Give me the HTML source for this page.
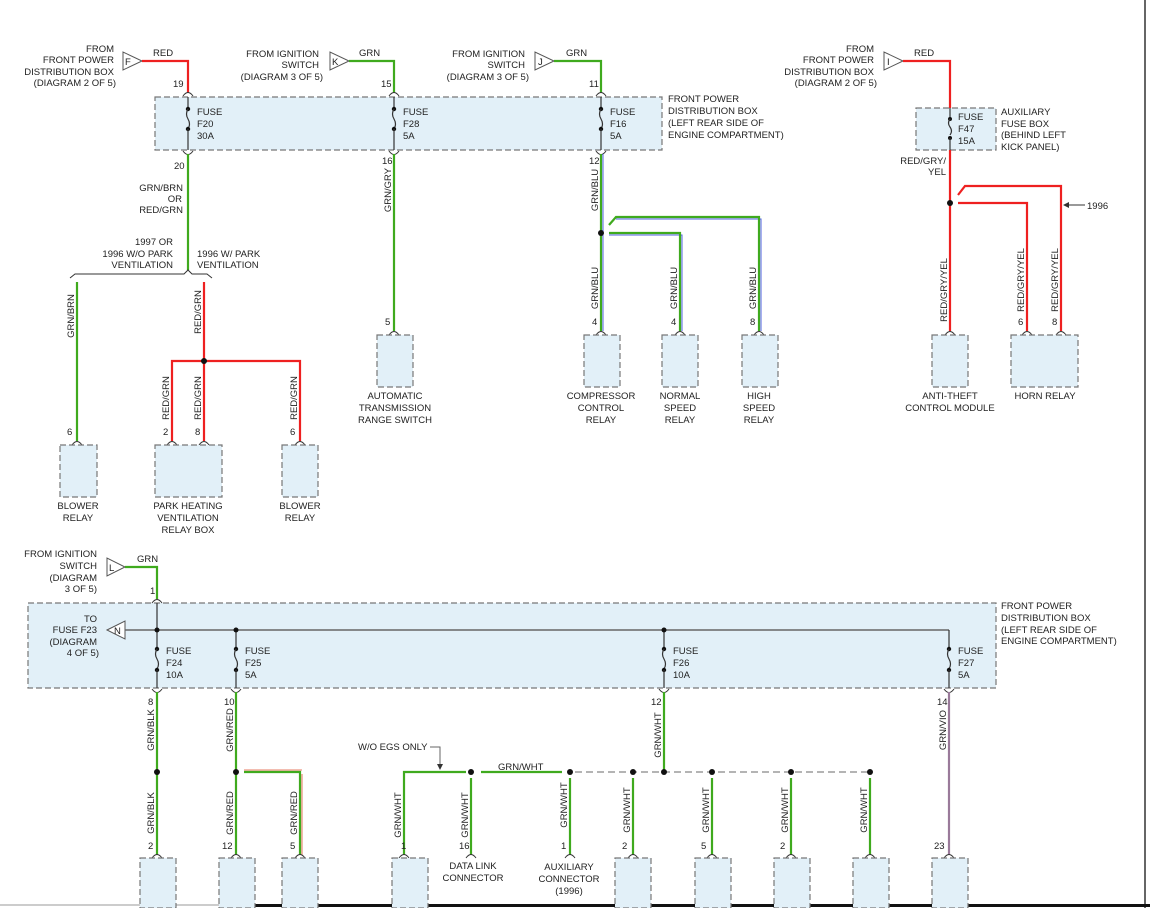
<!DOCTYPE html>
<html><head><meta charset="utf-8"><style>
html,body{margin:0;padding:0;background:#fff}
svg{display:block}
text{font-family:"Liberation Sans",sans-serif;font-size:9.5px;fill:#222}
.box{fill:#e2f0f8;stroke:#777;stroke-width:1.2;stroke-dasharray:6,3}
.r{stroke:#ee2020;stroke-width:2.2;fill:none}
.g{stroke:#3faa1e;stroke-width:2.2;fill:none}
.b{stroke:#5060e0;stroke-width:1;fill:none}
.gy{stroke:#666;stroke-width:1.5;fill:none}
.k{stroke:#333;stroke-width:1.2;fill:none}
.tri{fill:#fff;stroke:#555;stroke-width:1}
</style></head><body>
<svg width="1150" height="908" viewBox="0 0 1150 908" xmlns="http://www.w3.org/2000/svg">
<defs>
<g id="fuse"><line x1="0" y1="0" x2="0" y2="12" class="k"/><circle cx="0" cy="12" r="2.2" fill="#111"/><path d="M0,12 q-3,5 0,10 q3,5 0,10" class="k"/><circle cx="0" cy="32" r="2.2" fill="#111"/><line x1="0" y1="32" x2="0" y2="53" class="k"/></g>
<path id="cap" d="M-5,3 q5,-7 10,0" fill="none" stroke="#333" stroke-width="1"/>
<path id="capd" d="M-5,-3 q5,7 10,0" fill="none" stroke="#333" stroke-width="1"/>
</defs>

<line x1="1145" y1="0" x2="1145" y2="908" stroke="#333" stroke-width="1.5"/>
<line x1="0" y1="905" x2="245" y2="905" stroke="#ccc" stroke-width="2"/>
<line x1="245" y1="905.5" x2="1150" y2="905.5" stroke="#111" stroke-width="3"/>

<rect class="box" x="155" y="97" width="507" height="53"/>
<use href="#fuse" x="188" y="97"/><use href="#fuse" x="394" y="97"/><use href="#fuse" x="601" y="97"/>
<text x="197" y="115">FUSE</text><text x="197" y="127">F20</text><text x="197" y="139">30A</text>
<text x="403" y="115">FUSE</text><text x="403" y="127">F28</text><text x="403" y="139">5A</text>
<text x="610" y="115">FUSE</text><text x="610" y="127">F16</text><text x="610" y="139">5A</text>
<text x="668" y="102">FRONT POWER</text><text x="668" y="114">DISTRIBUTION BOX</text><text x="668" y="126">(LEFT REAR SIDE OF</text><text x="668" y="138">ENGINE COMPARTMENT)</text>

<polygon class="tri" points="123,52 123,70 142,61"/><text x="125" y="65">F</text>
<path class="r" d="M142,61 H188 V93"/><text x="153" y="56">RED</text>
<text x="114" y="52" text-anchor="end">FROM</text><text x="114" y="63" text-anchor="end">FRONT POWER</text><text x="114" y="75" text-anchor="end">DISTRIBUTION BOX</text><text x="116" y="86" text-anchor="end">(DIAGRAM 2 OF 5)</text>
<text x="173" y="87">19</text><use href="#cap" x="188" y="93"/>
<polygon class="tri" points="330,52 330,70 349,61"/><text x="332" y="65">K</text>
<path class="g" d="M349,61 H394 V93"/><text x="359" y="56">GRN</text>
<text x="319" y="57" text-anchor="end">FROM IGNITION</text><text x="319" y="68" text-anchor="end">SWITCH</text><text x="323" y="80" text-anchor="end">(DIAGRAM 3 OF 5)</text>
<text x="381" y="87">15</text><use href="#cap" x="394" y="93"/>
<polygon class="tri" points="535,52 535,70 554,61"/><text x="538" y="65">J</text>
<path class="g" d="M554,61 H601 V93"/><text x="566" y="56">GRN</text>
<text x="525" y="57" text-anchor="end">FROM IGNITION</text><text x="525" y="68" text-anchor="end">SWITCH</text><text x="529" y="80" text-anchor="end">(DIAGRAM 3 OF 5)</text>
<text x="589" y="87">11</text><use href="#cap" x="601" y="93"/>

<use href="#capd" x="188" y="154"/><text x="174" y="169">20</text>
<path class="g" d="M188,154 V270"/>
<text x="183" y="191" text-anchor="end">GRN/BRN</text><text x="182" y="202" text-anchor="end">OR</text><text x="183" y="213" text-anchor="end">RED/GRN</text>
<text x="173" y="245" text-anchor="end">1997 OR</text><text x="173" y="257" text-anchor="end">1996 W/O PARK</text><text x="173" y="268" text-anchor="end">VENTILATION</text>
<text x="197" y="257">1996 W/ PARK</text><text x="197" y="268">VENTILATION</text>
<path d="M70,278 l5,-4 H184 l4,-4 l4,4 H207 l5,4" fill="none" stroke="#333" stroke-width="1"/>
<path class="g" d="M77,282 V441"/><text transform="translate(74,316) rotate(-90)" text-anchor="middle">GRN/BRN</text>
<text x="67" y="435">6</text><use href="#cap" x="77" y="442"/>
<rect class="box" x="60" y="445" width="37" height="52"/>
<text x="78" y="509" text-anchor="middle">BLOWER</text><text x="78" y="521" text-anchor="middle">RELAY</text>
<path class="r" d="M204,282 V441 M172,441 V361 H300 V441"/><circle cx="204" cy="361" r="3" fill="#111"/>
<text transform="translate(201,312) rotate(-90)" text-anchor="middle">RED/GRN</text>
<text transform="translate(169,398) rotate(-90)" text-anchor="middle">RED/GRN</text>
<text transform="translate(201,398) rotate(-90)" text-anchor="middle">RED/GRN</text>
<text transform="translate(297,398) rotate(-90)" text-anchor="middle">RED/GRN</text>
<text x="163" y="435">2</text><text x="195" y="435">8</text><text x="290" y="435">6</text>
<use href="#cap" x="172" y="442"/><use href="#cap" x="204" y="442"/><use href="#cap" x="300" y="442"/>
<rect class="box" x="155" y="445" width="67" height="52"/><rect class="box" x="282" y="445" width="36" height="52"/>
<text x="188" y="509" text-anchor="middle">PARK HEATING</text><text x="188" y="521" text-anchor="middle">VENTILATION</text><text x="188" y="533" text-anchor="middle">RELAY BOX</text>
<text x="300" y="509" text-anchor="middle">BLOWER</text><text x="300" y="521" text-anchor="middle">RELAY</text>

<use href="#capd" x="394" y="154"/><text x="382" y="164">16</text>
<path class="g" d="M394,154 V331"/><text transform="translate(391,190) rotate(-90)" text-anchor="middle">GRN/GRY</text>
<text x="385" y="325">5</text><use href="#cap" x="394" y="332"/>
<rect class="box" x="377" y="335" width="36" height="52"/>
<text x="395" y="399" text-anchor="middle">AUTOMATIC</text><text x="395" y="411" text-anchor="middle">TRANSMISSION</text><text x="395" y="423" text-anchor="middle">RANGE SWITCH</text>

<use href="#capd" x="601" y="154"/><text x="589" y="164">12</text>
<path class="b" d="M603,154 V331 M609,235 H682 V331 M616,219 H761 V331"/>
<path class="g" d="M601,154 V331 M609,233 H680 V331 M609,225 L616,217 H759 V331"/>
<circle cx="601" cy="233" r="3" fill="#111"/>
<text transform="translate(598,190) rotate(-90)" text-anchor="middle">GRN/BLU</text>
<text transform="translate(598,288) rotate(-90)" text-anchor="middle">GRN/BLU</text>
<text transform="translate(677,288) rotate(-90)" text-anchor="middle">GRN/BLU</text>
<text transform="translate(756,288) rotate(-90)" text-anchor="middle">GRN/BLU</text>
<text x="592" y="325">4</text><text x="671" y="325">4</text><text x="750" y="325">8</text>
<use href="#cap" x="601" y="332"/><use href="#cap" x="680" y="332"/><use href="#cap" x="759" y="332"/>
<rect class="box" x="584" y="335" width="36" height="52"/><rect class="box" x="662" y="335" width="36" height="52"/><rect class="box" x="742" y="335" width="36" height="52"/>
<text x="601" y="399" text-anchor="middle">COMPRESSOR</text><text x="601" y="411" text-anchor="middle">CONTROL</text><text x="601" y="423" text-anchor="middle">RELAY</text>
<text x="680" y="399" text-anchor="middle">NORMAL</text><text x="680" y="411" text-anchor="middle">SPEED</text><text x="680" y="423" text-anchor="middle">RELAY</text>
<text x="759" y="399" text-anchor="middle">HIGH</text><text x="759" y="411" text-anchor="middle">SPEED</text><text x="759" y="423" text-anchor="middle">RELAY</text>

<polygon class="tri" points="884,52 884,70 903,61"/><text x="887" y="65">I</text>
<path class="r" d="M903,61 H950 V110"/><text x="914" y="56">RED</text>
<text x="874" y="52" text-anchor="end">FROM</text><text x="874" y="63" text-anchor="end">FRONT POWER</text><text x="874" y="75" text-anchor="end">DISTRIBUTION BOX</text><text x="877" y="86" text-anchor="end">(DIAGRAM 2 OF 5)</text>
<rect class="box" x="916" y="108" width="80" height="42"/>
<line x1="950" y1="108" x2="950" y2="118" class="k"/><circle cx="950" cy="119" r="2" fill="#111"/><path d="M950,119 q-3,4 0,8 q3,4 0,8" class="k"/><circle cx="950" cy="138" r="2" fill="#111"/><line x1="950" y1="138" x2="950" y2="150" class="k"/>
<text x="958" y="120">FUSE</text><text x="958" y="132">F47</text><text x="958" y="144">15A</text>
<text x="1001" y="115">AUXILIARY</text><text x="1001" y="127">FUSE BOX</text><text x="1001" y="138">(BEHIND LEFT</text><text x="1001" y="150">KICK PANEL)</text>
<text x="946" y="164" text-anchor="end">RED/GRY/</text><text x="946" y="175" text-anchor="end">YEL</text>
<path class="r" d="M950,150 V331 M958,203 H1027 V331 M958,195 L965,186 H1061 V331"/>
<circle cx="950" cy="203" r="3" fill="#111"/>
<path d="M1085,205 H1066" stroke="#333" stroke-width="1"/><polygon points="1063,205 1069,202 1069,208" fill="#333"/><text x="1087" y="209">1996</text>
<text transform="translate(947,290) rotate(-90)" text-anchor="middle">RED/GRY/YEL</text>
<text transform="translate(1024,280) rotate(-90)" text-anchor="middle">RED/GRY/YEL</text>
<text transform="translate(1058,280) rotate(-90)" text-anchor="middle">RED/GRY/YEL</text>
<text x="1018" y="325">6</text><text x="1052" y="325">8</text>
<use href="#cap" x="950" y="332"/><use href="#cap" x="1027" y="332"/><use href="#cap" x="1061" y="332"/>
<rect class="box" x="932" y="335" width="36" height="52"/><rect class="box" x="1011" y="335" width="67" height="52"/>
<text x="950" y="399" text-anchor="middle">ANTI-THEFT</text><text x="950" y="411" text-anchor="middle">CONTROL MODULE</text>
<text x="1045" y="399" text-anchor="middle">HORN RELAY</text>

<rect class="box" x="28" y="603" width="968" height="85"/>
<polygon class="tri" points="107,558 107,576 125,567"/><text x="109" y="571">L</text>
<path class="g" d="M125,567 H157 V599"/><text x="137" y="562">GRN</text>
<text x="97" y="557" text-anchor="end">FROM IGNITION</text><text x="97" y="569" text-anchor="end">SWITCH</text><text x="97" y="581" text-anchor="end">(DIAGRAM</text><text x="97" y="592" text-anchor="end">3 OF 5)</text>
<text x="150" y="594">1</text><use href="#cap" x="157" y="600"/>
<polygon class="tri" points="107,630 125,621 125,639"/><text x="114" y="634">N</text>
<line x1="125" y1="630" x2="949" y2="630" class="gy"/>
<text x="97" y="622" text-anchor="end">TO</text><text x="97" y="633" text-anchor="end">FUSE F23</text><text x="97" y="645" text-anchor="end">(DIAGRAM</text><text x="99" y="656" text-anchor="end">4 OF 5)</text>
<line x1="157" y1="603" x2="157" y2="630" class="k"/>
<line x1="157" y1="630" x2="157" y2="648" class="k"/><circle cx="157" cy="649" r="2.2" fill="#111"/><path d="M157,649 q-3,5 0,10 q3,5 0,10" class="k"/><circle cx="157" cy="670" r="2.2" fill="#111"/><line x1="157" y1="670" x2="157" y2="688" class="k"/>
<line x1="236" y1="630" x2="236" y2="648" class="k"/><circle cx="236" cy="649" r="2.2" fill="#111"/><path d="M236,649 q-3,5 0,10 q3,5 0,10" class="k"/><circle cx="236" cy="670" r="2.2" fill="#111"/><line x1="236" y1="670" x2="236" y2="688" class="k"/>
<line x1="664" y1="630" x2="664" y2="648" class="k"/><circle cx="664" cy="649" r="2.2" fill="#111"/><path d="M664,649 q-3,5 0,10 q3,5 0,10" class="k"/><circle cx="664" cy="670" r="2.2" fill="#111"/><line x1="664" y1="670" x2="664" y2="688" class="k"/>
<line x1="949" y1="630" x2="949" y2="648" class="k"/><circle cx="949" cy="649" r="2.2" fill="#111"/><path d="M949,649 q-3,5 0,10 q3,5 0,10" class="k"/><circle cx="949" cy="670" r="2.2" fill="#111"/><line x1="949" y1="670" x2="949" y2="688" class="k"/>
<circle cx="157" cy="630" r="2.5" fill="#111"/><circle cx="236" cy="630" r="2.5" fill="#111"/><circle cx="664" cy="630" r="2.5" fill="#111"/>
<text x="166" y="654">FUSE</text><text x="166" y="666">F24</text><text x="166" y="678">10A</text>
<text x="245" y="654">FUSE</text><text x="245" y="666">F25</text><text x="245" y="678">5A</text>
<text x="673" y="654">FUSE</text><text x="673" y="666">F26</text><text x="673" y="678">10A</text>
<text x="958" y="654">FUSE</text><text x="958" y="666">F27</text><text x="958" y="678">5A</text>
<text x="1001" y="609">FRONT POWER</text><text x="1001" y="621">DISTRIBUTION BOX</text><text x="1001" y="633">(LEFT REAR SIDE OF</text><text x="1001" y="644">ENGINE COMPARTMENT)</text>

<use href="#capd" x="157" y="692"/><use href="#capd" x="236" y="692"/><use href="#capd" x="664" y="692"/><use href="#capd" x="949" y="692"/>
<text x="148" y="705">8</text><text x="224" y="705">10</text><text x="651" y="705">12</text><text x="937" y="705">14</text>
<path d="M302,774 V855 M244,770 H302" stroke="#e05030" stroke-width="0.8" fill="none"/>
<path class="g" d="M157,692 V855 M236,692 V855 M244,772 H300 V855 M664,692 V772"/>
<circle cx="157" cy="772" r="3" fill="#111"/><circle cx="236" cy="772" r="3" fill="#111"/>
<text transform="translate(154,730) rotate(-90)" text-anchor="middle">GRN/BLK</text>
<text transform="translate(154,813) rotate(-90)" text-anchor="middle">GRN/BLK</text>
<text transform="translate(233,730) rotate(-90)" text-anchor="middle">GRN/RED</text>
<text transform="translate(233,813) rotate(-90)" text-anchor="middle">GRN/RED</text>
<text transform="translate(297,813) rotate(-90)" text-anchor="middle">GRN/RED</text>
<text transform="translate(661,735) rotate(-90)" text-anchor="middle">GRN/WHT</text>
<path d="M949,692 V855" stroke="#9a7a9a" stroke-width="2.2"/>
<text transform="translate(946,730) rotate(-90)" text-anchor="middle">GRN/VIO</text>
<text x="148" y="849">2</text><text x="222" y="849">12</text><text x="290" y="849">5</text><text x="934" y="849">23</text>
<use href="#cap" x="157" y="855"/><use href="#cap" x="236" y="855"/><use href="#cap" x="300" y="855"/><use href="#cap" x="949" y="855"/>
<rect class="box" x="140" y="858" width="36" height="50"/><rect class="box" x="219" y="858" width="36" height="50"/><rect class="box" x="282" y="858" width="36" height="50"/><rect class="box" x="932" y="858" width="36" height="50"/>

<text x="358" y="750">W/O EGS ONLY</text>
<path d="M430,747 H440 V765" stroke="#666" stroke-width="1" fill="none"/><polygon points="440,770 437,764 443,764" fill="#333"/>
<path class="g" d="M404,855 V772 H466 M481,772 H562 M471,778 V855 M570,778 V855 M633,778 V855 M712,778 V855 M791,778 V855 M870,778 V855"/>
<line x1="575" y1="772" x2="870" y2="772" stroke="#888" stroke-width="1.2" stroke-dasharray="7,4"/>
<circle cx="471" cy="772" r="3" fill="#111"/><circle cx="570" cy="772" r="3" fill="#111"/><circle cx="633" cy="772" r="3" fill="#111"/><circle cx="664" cy="772" r="3" fill="#111"/><circle cx="712" cy="772" r="3" fill="#111"/><circle cx="791" cy="772" r="3" fill="#111"/><circle cx="870" cy="772" r="3" fill="#111"/>
<text x="498" y="770">GRN/WHT</text>
<text transform="translate(401,815) rotate(-90)" text-anchor="middle">GRN/WHT</text>
<text transform="translate(468,815) rotate(-90)" text-anchor="middle">GRN/WHT</text>
<text transform="translate(567,805) rotate(-90)" text-anchor="middle">GRN/WHT</text>
<text transform="translate(630,810) rotate(-90)" text-anchor="middle">GRN/WHT</text>
<text transform="translate(709,810) rotate(-90)" text-anchor="middle">GRN/WHT</text>
<text transform="translate(788,810) rotate(-90)" text-anchor="middle">GRN/WHT</text>
<text transform="translate(867,810) rotate(-90)" text-anchor="middle">GRN/WHT</text>
<text x="401" y="849">1</text><text x="459" y="849">16</text><text x="561" y="849">1</text><text x="622" y="849">2</text><text x="701" y="849">5</text><text x="780" y="849">2</text>
<use href="#cap" x="404" y="855"/><use href="#cap" x="471" y="855"/><use href="#cap" x="570" y="855"/><use href="#cap" x="633" y="855"/><use href="#cap" x="712" y="855"/><use href="#cap" x="791" y="855"/><use href="#cap" x="870" y="855"/>
<rect class="box" x="392" y="858" width="36" height="50"/><rect class="box" x="615" y="858" width="36" height="50"/><rect class="box" x="695" y="858" width="36" height="50"/><rect class="box" x="774" y="858" width="36" height="50"/><rect class="box" x="853" y="858" width="36" height="50"/>
<text x="473" y="869" text-anchor="middle">DATA LINK</text><text x="473" y="881" text-anchor="middle">CONNECTOR</text>
<text x="569" y="870" text-anchor="middle">AUXILIARY</text><text x="569" y="882" text-anchor="middle">CONNECTOR</text><text x="569" y="894" text-anchor="middle">(1996)</text>
</svg>
</body></html>
